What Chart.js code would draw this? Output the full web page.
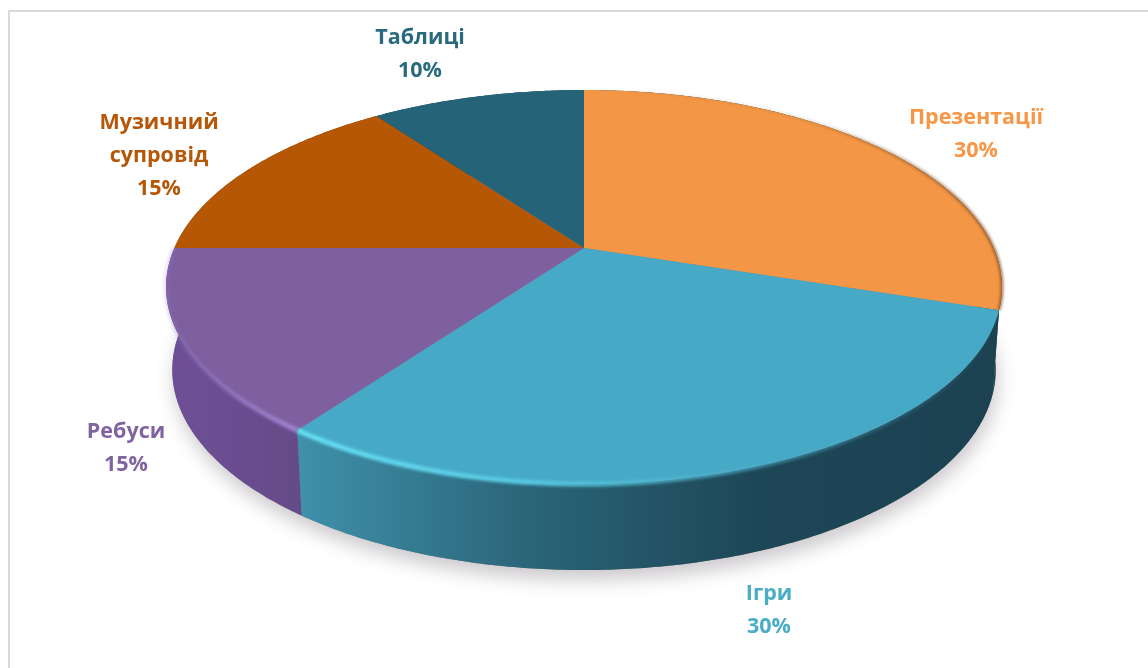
<!DOCTYPE html>
<html lang="uk">
<head>
<meta charset="UTF-8">
<title>Pie 3D</title>
<style>
    body { margin: 0; background: #fff; }
    #wrap { position: relative; width: 1148px; height: 668px; overflow: hidden; }
    #frame { position: absolute; left: 8px; top: 10px; width: 1200px; height: 700px; border: 2px solid #d9d9d9; }
    canvas { position: absolute; left: 0; top: 0; }
</style>
<script src="https://cdn.jsdelivr.net/npm/chart.js"></script>
</head>
<body>
<div id="wrap">
    <div id="frame"></div>
    <canvas id="pie" width="1148" height="668"></canvas>
</div>
<script>
const categories = ['Презентації', 'Ігри', 'Ребуси', 'Музичний супровід', 'Таблиці'];
const shares = [30, 30, 15, 15, 10];

const faceColors = ['#f39645', '#46a9c6', '#7e60a0', '#b55705', '#256478'];
const labelColors = ['#f79646', '#4bacc6', '#8064a2', '#b65708', '#2a6a80'];
// horizontal gradient of the rim, left to right
// first one is dark too: the only bit of it that shows sits under the blue slice
const wallColors = [
    ['#1c4252', '#1c4252'],
    ['#3f90aa', '#2a6478', '#1d4656', '#1c4252'],
    ['#6e4f97', '#654a88'],
    ['#7a3c04', '#7a3c04'],
    ['#17434f', '#17434f']
];
const edgeColors = [
    ['rgba(120,70,30,0)', 'rgba(120,70,30,0.15)', 'rgba(120,70,30,0.85)'],
    ['#66e0f4', '#58c8e2', 'rgba(75,172,198,0.6)', 'rgba(70,169,198,0)'],
    ['rgba(150,120,200,0.2)', '#a184d2'],
    ['rgba(0,0,0,0)', 'rgba(0,0,0,0)'],
    ['rgba(0,0,0,0)', 'rgba(0,0,0,0)']
];
const edgeWidths = [2.5, 5, 5, 0, 0];
// where the text blocks sit (centre of block)
const labelCentres = [[976, 134], [769, 610], [126, 448], [159, 156], [420, 54]];

// perspective of the disc
const tilt = 0.198;
const widen = 2.593;

function rim(el, a, low) {
    const u = Math.cos(a), v = Math.sin(a);
    const w = 1 - tilt * v;
    let x = widen * el.outerRadius * u / w;
    let y = (1 + tilt) * el.outerRadius * v / w;
    if (low) {
        x *= 0.985;
        y += 82 + 4 * v;
    }
    return [el.x + x, el.y + y];
}

function arcPoints(el, low) {
    const pts = [];
    const n = Math.ceil((el.endAngle - el.startAngle) / 0.01);
    for (let i = 0; i <= n; i++) {
        pts.push(rim(el, el.startAngle + (el.endAngle - el.startAngle) * i / n, low));
    }
    return pts;
}

function trace(ctx, pts, start) {
    pts.forEach((p, i) => {
        if (i === 0 && start) ctx.moveTo(p[0], p[1]);
        else ctx.lineTo(p[0], p[1]);
    });
}

function hGradient(ctx, pts, colors) {
    const xs = pts.map(p => p[0]);
    const g = ctx.createLinearGradient(Math.min(...xs), 0, Math.max(...xs), 0);
    colors.forEach((c, i) => g.addColorStop(i / (colors.length - 1), c));
    return g;
}

const disc3d = {
    id: 'disc3d',
    beforeDatasetsDraw(chart) {
        const ctx = chart.ctx;
        const arcs = chart.getDatasetMeta(0).data;

        // soft shadow under the disc
        ctx.save();
        ctx.shadowColor = 'rgba(90,80,90,0.3)';
        ctx.shadowBlur = 18;
        ctx.shadowOffsetY = 10;
        ctx.shadowOffsetX = 2;
        ctx.fillStyle = '#888';
        ctx.beginPath();
        arcs.forEach((el, i) => trace(ctx, arcPoints(el, true), i === 0));
        ctx.closePath();
        ctx.fill();
        ctx.restore();

        // rim
        arcs.forEach((el, i) => {
            const top = arcPoints(el, false), low = arcPoints(el, true);
            ctx.beginPath();
            trace(ctx, top, true);
            trace(ctx, low.slice().reverse(), false);
            ctx.closePath();
            ctx.fillStyle = hGradient(ctx, low, wallColors[i]);
            ctx.fill();
        });

        // top face
        arcs.forEach((el, i) => {
            ctx.beginPath();
            ctx.moveTo(el.x, el.y);
            trace(ctx, arcPoints(el, false), false);
            ctx.closePath();
            ctx.fillStyle = faceColors[i];
            ctx.fill();
        });

        // bevel along the front edge
        ctx.save();
        ctx.filter = 'blur(1.6px)';
        arcs.forEach((el, i) => {
            if (!edgeWidths[i]) return;
            const top = arcPoints(el, false);
            ctx.beginPath();
            trace(ctx, top, true);
            ctx.lineWidth = edgeWidths[i];
            ctx.strokeStyle = hGradient(ctx, top, edgeColors[i]);
            ctx.stroke();
        });
        ctx.restore();
        return false;
    },
    afterDraw(chart) {
        const ctx = chart.ctx;
        ctx.save();
        ctx.font = 'bold 21.5px "Open Sans"';
        ctx.textAlign = 'center';
        ctx.textBaseline = 'middle';
        const total = shares.reduce((a, b) => a + b, 0);
        categories.forEach((name, i) => {
            const lines = name.split(' ');
            lines.push(Math.round(shares[i] / total * 100) + '%');
            const [cx, cy] = labelCentres[i];
            ctx.fillStyle = labelColors[i];
            lines.forEach((t, j) => {
                ctx.fillText(t, cx, cy + (j - (lines.length - 1) / 2) * 33);
            });
        });
        ctx.restore();
    }
};

new Chart(document.getElementById('pie'), {
    type: 'pie',
    data: {
        labels: categories,
        datasets: [{ data: shares, backgroundColor: faceColors, borderWidth: 0 }]
    },
    options: {
        responsive: false,
        animation: false,
        layout: { padding: { left: 426, right: 406, top: 90, bottom: 262 } },
        plugins: { legend: { display: false }, tooltip: { enabled: false } }
    },
    plugins: [disc3d]
});
</script>
</body>
</html>
